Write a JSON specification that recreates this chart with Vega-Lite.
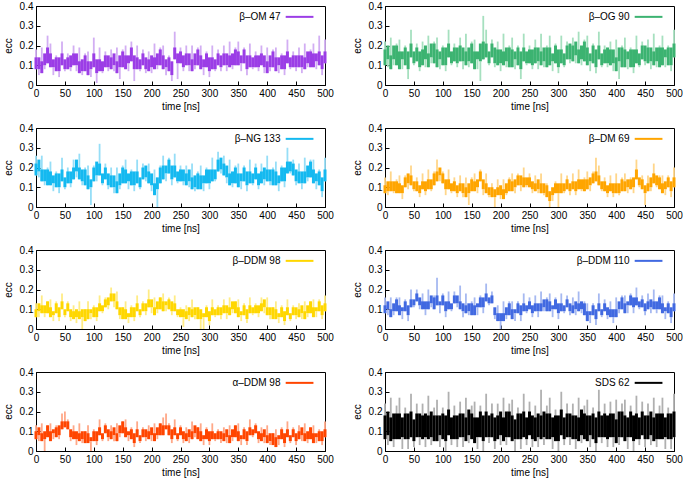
{
"$schema": "https://vega.github.io/schema/vega-lite/v6.json",
"padding": {"left": 2, "top": 0, "right": 2, "bottom": 0},
"background": "white",
"config": {
  "font": "Liberation Sans",
  "view": {"stroke": "#000", "strokeWidth": 1},
  "axis": {"labelFont": "Liberation Sans", "titleFont": "Liberation Sans", "labelFontSize": 10, "titleFontSize": 10, "titleFontWeight": "normal", "labelColor": "#000", "titleColor": "#000", "domainColor": "#000", "tickColor": "#000", "grid": false, "tickSize": -4, "labelPadding": 7, "labelOverlap": false},
  "axisX": {"titlePadding": 3, "labelOverlap": false, "labelFlush": false},
  "axisY": {"titlePadding": 6, "labelOverlap": false},
  "rule": {"clip": true}
},
"datasets": {
"om": [{"t":0,"a":0.08,"b":0.14,"s":0.18},{"t":5,"a":0.08,"b":0.14,"s":0.05},{"t":10,"a":0.06,"b":0.12,"s":0.19},{"t":15,"a":0.1,"b":0.16,"s":0.08},{"t":20,"a":0.11,"b":0.19,"s":0.25},{"t":25,"a":0.09,"b":0.16,"s":0.21},{"t":30,"a":0.09,"b":0.13,"s":0.05},{"t":35,"a":0.07,"b":0.14,"s":0.15},{"t":40,"a":0.07,"b":0.14,"s":0.04},{"t":45,"a":0.1,"b":0.16,"s":0.22},{"t":50,"a":0.08,"b":0.13,"s":0.07},{"t":55,"a":0.08,"b":0.14,"s":0.16},{"t":60,"a":0.09,"b":0.15,"s":0.07},{"t":65,"a":0.1,"b":0.16,"s":0.2},{"t":70,"a":0.1,"b":0.16,"s":0.07},{"t":75,"a":0.06,"b":0.12,"s":0.19},{"t":80,"a":0.07,"b":0.13,"s":0.05},{"t":85,"a":0.07,"b":0.15,"s":0.16},{"t":90,"a":0.05,"b":0.12,"s":0.17},{"t":95,"a":0.08,"b":0.12,"s":0.04},{"t":100,"a":0.09,"b":0.16,"s":0.24},{"t":105,"a":0.06,"b":0.13,"s":0.01},{"t":110,"a":0.07,"b":0.13,"s":0.19},{"t":115,"a":0.07,"b":0.12,"s":0.06},{"t":120,"a":0.09,"b":0.15,"s":0.17},{"t":125,"a":0.09,"b":0.15,"s":0.07},{"t":130,"a":0.08,"b":0.14,"s":0.18},{"t":135,"a":0.1,"b":0.16,"s":0.07},{"t":140,"a":0.06,"b":0.12,"s":0.19},{"t":145,"a":0.09,"b":0.15,"s":0.03},{"t":150,"a":0.09,"b":0.17,"s":0.18},{"t":155,"a":0.08,"b":0.15,"s":0.2},{"t":160,"a":0.11,"b":0.15,"s":0.07},{"t":165,"a":0.12,"b":0.19,"s":0.22},{"t":170,"a":0.08,"b":0.15,"s":0.02},{"t":175,"a":0.08,"b":0.14,"s":0.2},{"t":180,"a":0.08,"b":0.13,"s":0.07},{"t":185,"a":0.1,"b":0.16,"s":0.18},{"t":190,"a":0.08,"b":0.14,"s":0.06},{"t":195,"a":0.07,"b":0.13,"s":0.17},{"t":200,"a":0.09,"b":0.15,"s":0.06},{"t":205,"a":0.08,"b":0.14,"s":0.21},{"t":210,"a":0.1,"b":0.16,"s":0.08},{"t":215,"a":0.1,"b":0.18,"s":0.19},{"t":220,"a":0.08,"b":0.15,"s":0.2},{"t":225,"a":0.09,"b":0.13,"s":0.05},{"t":230,"a":0.07,"b":0.14,"s":0.15},{"t":235,"a":0.05,"b":0.12,"s":0.02},{"t":240,"a":0.13,"b":0.19,"s":0.27},{"t":245,"a":0.11,"b":0.16,"s":0.03},{"t":250,"a":0.11,"b":0.17,"s":0.19},{"t":255,"a":0.09,"b":0.15,"s":0.07},{"t":260,"a":0.1,"b":0.16,"s":0.2},{"t":265,"a":0.1,"b":0.16,"s":0.07},{"t":270,"a":0.07,"b":0.13,"s":0.2},{"t":275,"a":0.1,"b":0.16,"s":0.08},{"t":280,"a":0.1,"b":0.18,"s":0.19},{"t":285,"a":0.08,"b":0.15,"s":0.2},{"t":290,"a":0.09,"b":0.13,"s":0.05},{"t":295,"a":0.09,"b":0.16,"s":0.17},{"t":300,"a":0.07,"b":0.14,"s":0.04},{"t":305,"a":0.08,"b":0.14,"s":0.2},{"t":310,"a":0.08,"b":0.13,"s":0.07},{"t":315,"a":0.1,"b":0.16,"s":0.18},{"t":320,"a":0.09,"b":0.15,"s":0.07},{"t":325,"a":0.1,"b":0.16,"s":0.2},{"t":330,"a":0.1,"b":0.16,"s":0.07},{"t":335,"a":0.09,"b":0.15,"s":0.22},{"t":340,"a":0.1,"b":0.16,"s":0.08},{"t":345,"a":0.1,"b":0.18,"s":0.19},{"t":350,"a":0.1,"b":0.17,"s":0.22},{"t":355,"a":0.11,"b":0.15,"s":0.07},{"t":360,"a":0.11,"b":0.18,"s":0.19},{"t":365,"a":0.08,"b":0.15,"s":0.05},{"t":370,"a":0.09,"b":0.15,"s":0.21},{"t":375,"a":0.09,"b":0.14,"s":0.08},{"t":380,"a":0.09,"b":0.15,"s":0.17},{"t":385,"a":0.09,"b":0.15,"s":0.07},{"t":390,"a":0.1,"b":0.16,"s":0.2},{"t":395,"a":0.09,"b":0.15,"s":0.06},{"t":400,"a":0.06,"b":0.12,"s":0.19},{"t":405,"a":0.09,"b":0.15,"s":0.07},{"t":410,"a":0.09,"b":0.17,"s":0.18},{"t":415,"a":0.07,"b":0.14,"s":0.19},{"t":420,"a":0.1,"b":0.14,"s":0.06},{"t":425,"a":0.08,"b":0.15,"s":0.16},{"t":430,"a":0.08,"b":0.15,"s":0.05},{"t":435,"a":0.11,"b":0.17,"s":0.23},{"t":440,"a":0.09,"b":0.14,"s":0.08},{"t":445,"a":0.09,"b":0.15,"s":0.17},{"t":450,"a":0.09,"b":0.15,"s":0.07},{"t":455,"a":0.09,"b":0.15,"s":0.19},{"t":460,"a":0.09,"b":0.15,"s":0.06},{"t":465,"a":0.08,"b":0.14,"s":0.21},{"t":470,"a":0.11,"b":0.17,"s":0.09},{"t":475,"a":0.09,"b":0.17,"s":0.18},{"t":480,"a":0.09,"b":0.16,"s":0.21},{"t":485,"a":0.12,"b":0.16,"s":0.08},{"t":490,"a":0.1,"b":0.17,"s":0.25},{"t":495,"a":0.08,"b":0.15,"s":0.05},{"t":500,"a":0.11,"b":0.17,"s":0.23}],
"og": [{"t":0,"a":0.1,"b":0.18,"s":0.22},{"t":5,"a":0.13,"b":0.2,"s":0.09},{"t":10,"a":0.08,"b":0.15,"s":0.24},{"t":15,"a":0.13,"b":0.2,"s":0.1},{"t":20,"a":0.1,"b":0.2,"s":0.21},{"t":25,"a":0.08,"b":0.17,"s":0.23},{"t":30,"a":0.13,"b":0.17,"s":0.08},{"t":35,"a":0.1,"b":0.19,"s":0.2},{"t":40,"a":0.08,"b":0.17,"s":0.03},{"t":45,"a":0.14,"b":0.21,"s":0.28},{"t":50,"a":0.11,"b":0.17,"s":0.1},{"t":55,"a":0.12,"b":0.19,"s":0.21},{"t":60,"a":0.09,"b":0.17,"s":0.07},{"t":65,"a":0.1,"b":0.18,"s":0.22},{"t":70,"a":0.13,"b":0.2,"s":0.09},{"t":75,"a":0.09,"b":0.16,"s":0.25},{"t":80,"a":0.14,"b":0.21,"s":0.11},{"t":85,"a":0.11,"b":0.21,"s":0.22},{"t":90,"a":0.09,"b":0.18,"s":0.24},{"t":95,"a":0.13,"b":0.17,"s":0.08},{"t":100,"a":0.1,"b":0.19,"s":0.2},{"t":105,"a":0.1,"b":0.19,"s":0.07},{"t":110,"a":0.14,"b":0.21,"s":0.28},{"t":115,"a":0.11,"b":0.17,"s":0.1},{"t":120,"a":0.12,"b":0.19,"s":0.21},{"t":125,"a":0.11,"b":0.19,"s":0.09},{"t":130,"a":0.12,"b":0.2,"s":0.24},{"t":135,"a":0.12,"b":0.19,"s":0.08},{"t":140,"a":0.1,"b":0.17,"s":0.26},{"t":145,"a":0.12,"b":0.19,"s":0.09},{"t":150,"a":0.11,"b":0.21,"s":0.22},{"t":155,"a":0.08,"b":0.17,"s":0.23},{"t":160,"a":0.13,"b":0.17,"s":0.08},{"t":165,"a":0.12,"b":0.21,"s":0.02},{"t":170,"a":0.13,"b":0.22,"s":0.35},{"t":175,"a":0.14,"b":0.21,"s":0.28},{"t":180,"a":0.11,"b":0.17,"s":0.1},{"t":185,"a":0.14,"b":0.21,"s":0.23},{"t":190,"a":0.11,"b":0.19,"s":0.09},{"t":195,"a":0.1,"b":0.18,"s":0.22},{"t":200,"a":0.11,"b":0.18,"s":0.07},{"t":205,"a":0.1,"b":0.17,"s":0.26},{"t":210,"a":0.12,"b":0.19,"s":0.09},{"t":215,"a":0.09,"b":0.19,"s":0.2},{"t":220,"a":0.09,"b":0.18,"s":0.24},{"t":225,"a":0.13,"b":0.17,"s":0.08},{"t":230,"a":0.1,"b":0.19,"s":0.2},{"t":235,"a":0.08,"b":0.17,"s":0.03},{"t":240,"a":0.12,"b":0.19,"s":0.26},{"t":245,"a":0.11,"b":0.17,"s":0.1},{"t":250,"a":0.11,"b":0.18,"s":0.2},{"t":255,"a":0.1,"b":0.18,"s":0.08},{"t":260,"a":0.11,"b":0.19,"s":0.23},{"t":265,"a":0.12,"b":0.19,"s":0.08},{"t":270,"a":0.1,"b":0.17,"s":0.26},{"t":275,"a":0.12,"b":0.19,"s":0.09},{"t":280,"a":0.09,"b":0.19,"s":0.2},{"t":285,"a":0.1,"b":0.19,"s":0.25},{"t":290,"a":0.12,"b":0.16,"s":0.07},{"t":295,"a":0.11,"b":0.2,"s":0.21},{"t":300,"a":0.09,"b":0.18,"s":0.06},{"t":305,"a":0.11,"b":0.18,"s":0.25},{"t":310,"a":0.1,"b":0.16,"s":0.09},{"t":315,"a":0.13,"b":0.2,"s":0.22},{"t":320,"a":0.13,"b":0.21,"s":0.11},{"t":325,"a":0.12,"b":0.2,"s":0.24},{"t":330,"a":0.15,"b":0.22,"s":0.11},{"t":335,"a":0.11,"b":0.18,"s":0.27},{"t":340,"a":0.13,"b":0.2,"s":0.1},{"t":345,"a":0.12,"b":0.22,"s":0.23},{"t":350,"a":0.1,"b":0.19,"s":0.25},{"t":355,"a":0.12,"b":0.16,"s":0.07},{"t":360,"a":0.11,"b":0.2,"s":0.21},{"t":365,"a":0.09,"b":0.18,"s":0.06},{"t":370,"a":0.13,"b":0.2,"s":0.27},{"t":375,"a":0.1,"b":0.16,"s":0.09},{"t":380,"a":0.11,"b":0.18,"s":0.2},{"t":385,"a":0.11,"b":0.19,"s":0.09},{"t":390,"a":0.1,"b":0.18,"s":0.22},{"t":395,"a":0.11,"b":0.18,"s":0.07},{"t":400,"a":0.07,"b":0.14,"s":0.23},{"t":405,"a":0.12,"b":0.19,"s":0.03},{"t":410,"a":0.09,"b":0.19,"s":0.2},{"t":415,"a":0.09,"b":0.18,"s":0.24},{"t":420,"a":0.13,"b":0.17,"s":0.08},{"t":425,"a":0.09,"b":0.18,"s":0.19},{"t":430,"a":0.09,"b":0.18,"s":0.06},{"t":435,"a":0.11,"b":0.18,"s":0.25},{"t":440,"a":0.1,"b":0.16,"s":0.09},{"t":445,"a":0.13,"b":0.2,"s":0.22},{"t":450,"a":0.12,"b":0.2,"s":0.1},{"t":455,"a":0.11,"b":0.19,"s":0.23},{"t":460,"a":0.12,"b":0.19,"s":0.08},{"t":465,"a":0.1,"b":0.17,"s":0.26},{"t":470,"a":0.12,"b":0.19,"s":0.09},{"t":475,"a":0.09,"b":0.19,"s":0.2},{"t":480,"a":0.1,"b":0.19,"s":0.25},{"t":485,"a":0.14,"b":0.18,"s":0.09},{"t":490,"a":0.1,"b":0.19,"s":0.2},{"t":495,"a":0.1,"b":0.19,"s":0.07},{"t":500,"a":0.14,"b":0.21,"s":0.28}],
"ng": [{"t":0,"a":0.16,"b":0.22,"s":0.26},{"t":5,"a":0.18,"b":0.24,"s":0.15},{"t":10,"a":0.13,"b":0.19,"s":0.26},{"t":15,"a":0.13,"b":0.19,"s":0.11},{"t":20,"a":0.11,"b":0.19,"s":0.2},{"t":25,"a":0.11,"b":0.18,"s":0.23},{"t":30,"a":0.12,"b":0.16,"s":0.08},{"t":35,"a":0.1,"b":0.17,"s":0.18},{"t":40,"a":0.1,"b":0.17,"s":0.07},{"t":45,"a":0.13,"b":0.19,"s":0.25},{"t":50,"a":0.1,"b":0.15,"s":0.09},{"t":55,"a":0.12,"b":0.18,"s":0.2},{"t":60,"a":0.12,"b":0.18,"s":0.1},{"t":65,"a":0.14,"b":0.2,"s":0.24},{"t":70,"a":0.18,"b":0.24,"s":0.15},{"t":75,"a":0.14,"b":0.2,"s":0.27},{"t":80,"a":0.13,"b":0.19,"s":0.11},{"t":85,"a":0.11,"b":0.19,"s":0.2},{"t":90,"a":0.09,"b":0.16,"s":0.21},{"t":95,"a":0.1,"b":0.14,"s":0.01},{"t":100,"a":0.13,"b":0.2,"s":0.21},{"t":105,"a":0.16,"b":0.23,"s":0.13},{"t":110,"a":0.16,"b":0.22,"s":0.32},{"t":115,"a":0.12,"b":0.17,"s":0.11},{"t":120,"a":0.14,"b":0.2,"s":0.22},{"t":125,"a":0.11,"b":0.17,"s":0.09},{"t":130,"a":0.1,"b":0.16,"s":0.2},{"t":135,"a":0.1,"b":0.16,"s":0.07},{"t":140,"a":0.07,"b":0.13,"s":0.2},{"t":145,"a":0.11,"b":0.17,"s":0.09},{"t":150,"a":0.12,"b":0.2,"s":0.21},{"t":155,"a":0.12,"b":0.19,"s":0.24},{"t":160,"a":0.13,"b":0.17,"s":0.09},{"t":165,"a":0.11,"b":0.18,"s":0.19},{"t":170,"a":0.11,"b":0.18,"s":0.08},{"t":175,"a":0.12,"b":0.18,"s":0.24},{"t":180,"a":0.1,"b":0.15,"s":0.09},{"t":185,"a":0.14,"b":0.2,"s":0.22},{"t":190,"a":0.15,"b":0.21,"s":0.13},{"t":195,"a":0.12,"b":0.18,"s":0.22},{"t":200,"a":0.11,"b":0.17,"s":0.08},{"t":205,"a":0.06,"b":0.12,"s":0.19},{"t":210,"a":0.09,"b":0.15,"s":0.0},{"t":215,"a":0.12,"b":0.2,"s":0.21},{"t":220,"a":0.14,"b":0.21,"s":0.26},{"t":225,"a":0.17,"b":0.21,"s":0.13},{"t":230,"a":0.17,"b":0.24,"s":0.25},{"t":235,"a":0.14,"b":0.21,"s":0.11},{"t":240,"a":0.15,"b":0.21,"s":0.27},{"t":245,"a":0.13,"b":0.18,"s":0.12},{"t":250,"a":0.13,"b":0.19,"s":0.21},{"t":255,"a":0.13,"b":0.19,"s":0.11},{"t":260,"a":0.11,"b":0.17,"s":0.21},{"t":265,"a":0.13,"b":0.19,"s":0.1},{"t":270,"a":0.09,"b":0.15,"s":0.22},{"t":275,"a":0.1,"b":0.16,"s":0.08},{"t":280,"a":0.09,"b":0.17,"s":0.18},{"t":285,"a":0.09,"b":0.16,"s":0.21},{"t":290,"a":0.12,"b":0.16,"s":0.08},{"t":295,"a":0.12,"b":0.19,"s":0.2},{"t":300,"a":0.12,"b":0.19,"s":0.09},{"t":305,"a":0.13,"b":0.19,"s":0.25},{"t":310,"a":0.14,"b":0.19,"s":0.13},{"t":315,"a":0.18,"b":0.24,"s":0.28},{"t":320,"a":0.19,"b":0.25,"s":0.17},{"t":325,"a":0.16,"b":0.22,"s":0.26},{"t":330,"a":0.15,"b":0.21,"s":0.12},{"t":335,"a":0.11,"b":0.17,"s":0.24},{"t":340,"a":0.12,"b":0.18,"s":0.1},{"t":345,"a":0.12,"b":0.2,"s":0.21},{"t":350,"a":0.1,"b":0.17,"s":0.22},{"t":355,"a":0.13,"b":0.17,"s":0.09},{"t":360,"a":0.13,"b":0.2,"s":0.21},{"t":365,"a":0.11,"b":0.18,"s":0.08},{"t":370,"a":0.12,"b":0.18,"s":0.24},{"t":375,"a":0.12,"b":0.17,"s":0.11},{"t":380,"a":0.14,"b":0.2,"s":0.22},{"t":385,"a":0.11,"b":0.17,"s":0.09},{"t":390,"a":0.12,"b":0.18,"s":0.22},{"t":395,"a":0.14,"b":0.2,"s":0.11},{"t":400,"a":0.13,"b":0.19,"s":0.26},{"t":405,"a":0.13,"b":0.19,"s":0.11},{"t":410,"a":0.11,"b":0.19,"s":0.2},{"t":415,"a":0.11,"b":0.18,"s":0.23},{"t":420,"a":0.12,"b":0.16,"s":0.08},{"t":425,"a":0.13,"b":0.2,"s":0.21},{"t":430,"a":0.13,"b":0.2,"s":0.1},{"t":435,"a":0.17,"b":0.23,"s":0.3},{"t":440,"a":0.18,"b":0.23,"s":0.17},{"t":445,"a":0.16,"b":0.22,"s":0.24},{"t":450,"a":0.13,"b":0.19,"s":0.11},{"t":455,"a":0.12,"b":0.18,"s":0.22},{"t":460,"a":0.12,"b":0.18,"s":0.09},{"t":465,"a":0.12,"b":0.18,"s":0.25},{"t":470,"a":0.15,"b":0.21,"s":0.13},{"t":475,"a":0.15,"b":0.23,"s":0.24},{"t":480,"a":0.12,"b":0.19,"s":0.24},{"t":485,"a":0.13,"b":0.17,"s":0.09},{"t":490,"a":0.11,"b":0.18,"s":0.19},{"t":495,"a":0.08,"b":0.15,"s":0.05},{"t":500,"a":0.13,"b":0.19,"s":0.25}],
"dm": [{"t":0,"a":0.07,"b":0.11,"s":0.15},{"t":5,"a":0.08,"b":0.13,"s":0.06},{"t":10,"a":0.08,"b":0.13,"s":0.18},{"t":15,"a":0.08,"b":0.13,"s":0.07},{"t":20,"a":0.07,"b":0.13,"s":0.14},{"t":25,"a":0.07,"b":0.12,"s":0.16},{"t":30,"a":0.07,"b":0.11,"s":0.04},{"t":35,"a":0.1,"b":0.15,"s":0.16},{"t":40,"a":0.12,"b":0.17,"s":0.09},{"t":45,"a":0.11,"b":0.16,"s":0.21},{"t":50,"a":0.09,"b":0.13,"s":0.08},{"t":55,"a":0.08,"b":0.13,"s":0.15},{"t":60,"a":0.07,"b":0.11,"s":0.05},{"t":65,"a":0.09,"b":0.13,"s":0.17},{"t":70,"a":0.08,"b":0.13,"s":0.06},{"t":75,"a":0.09,"b":0.14,"s":0.19},{"t":80,"a":0.09,"b":0.14,"s":0.08},{"t":85,"a":0.11,"b":0.17,"s":0.18},{"t":90,"a":0.13,"b":0.18,"s":0.24},{"t":95,"a":0.16,"b":0.2,"s":0.13},{"t":100,"a":0.12,"b":0.17,"s":0.18},{"t":105,"a":0.09,"b":0.14,"s":0.06},{"t":110,"a":0.09,"b":0.14,"s":0.19},{"t":115,"a":0.08,"b":0.12,"s":0.07},{"t":120,"a":0.08,"b":0.13,"s":0.15},{"t":125,"a":0.07,"b":0.11,"s":0.05},{"t":130,"a":0.08,"b":0.12,"s":0.16},{"t":135,"a":0.07,"b":0.12,"s":0.05},{"t":140,"a":0.05,"b":0.1,"s":0.15},{"t":145,"a":0.07,"b":0.12,"s":0.01},{"t":150,"a":0.08,"b":0.14,"s":0.15},{"t":155,"a":0.08,"b":0.13,"s":0.17},{"t":160,"a":0.1,"b":0.14,"s":0.07},{"t":165,"a":0.13,"b":0.18,"s":0.19},{"t":170,"a":0.09,"b":0.14,"s":0.06},{"t":175,"a":0.07,"b":0.12,"s":0.17},{"t":180,"a":0.06,"b":0.1,"s":0.05},{"t":185,"a":0.05,"b":0.1,"s":0.12},{"t":190,"a":0.05,"b":0.09,"s":0.0},{"t":195,"a":0.06,"b":0.1,"s":0.14},{"t":200,"a":0.06,"b":0.11,"s":0.04},{"t":205,"a":0.04,"b":0.09,"s":0.14},{"t":210,"a":0.07,"b":0.12,"s":0.06},{"t":215,"a":0.08,"b":0.14,"s":0.15},{"t":220,"a":0.08,"b":0.13,"s":0.17},{"t":225,"a":0.1,"b":0.14,"s":0.07},{"t":230,"a":0.11,"b":0.16,"s":0.17},{"t":235,"a":0.11,"b":0.16,"s":0.08},{"t":240,"a":0.1,"b":0.15,"s":0.2},{"t":245,"a":0.11,"b":0.15,"s":0.1},{"t":250,"a":0.1,"b":0.15,"s":0.17},{"t":255,"a":0.09,"b":0.13,"s":0.07},{"t":260,"a":0.08,"b":0.12,"s":0.16},{"t":265,"a":0.09,"b":0.14,"s":0.07},{"t":270,"a":0.07,"b":0.12,"s":0.17},{"t":275,"a":0.07,"b":0.12,"s":0.06},{"t":280,"a":0.05,"b":0.11,"s":0.12},{"t":285,"a":0.03,"b":0.08,"s":0.0},{"t":290,"a":0.06,"b":0.1,"s":0.03},{"t":295,"a":0.07,"b":0.12,"s":0.13},{"t":300,"a":0.07,"b":0.12,"s":0.0},{"t":305,"a":0.07,"b":0.12,"s":0.17},{"t":310,"a":0.08,"b":0.12,"s":0.07},{"t":315,"a":0.09,"b":0.14,"s":0.16},{"t":320,"a":0.08,"b":0.12,"s":0.06},{"t":325,"a":0.09,"b":0.13,"s":0.17},{"t":330,"a":0.08,"b":0.13,"s":0.06},{"t":335,"a":0.09,"b":0.14,"s":0.19},{"t":340,"a":0.09,"b":0.14,"s":0.08},{"t":345,"a":0.08,"b":0.14,"s":0.15},{"t":350,"a":0.09,"b":0.14,"s":0.18},{"t":355,"a":0.11,"b":0.15,"s":0.08},{"t":360,"a":0.12,"b":0.17,"s":0.18},{"t":365,"a":0.13,"b":0.18,"s":0.25},{"t":370,"a":0.11,"b":0.16,"s":0.21},{"t":375,"a":0.09,"b":0.13,"s":0.08},{"t":380,"a":0.08,"b":0.13,"s":0.15},{"t":385,"a":0.07,"b":0.11,"s":0.05},{"t":390,"a":0.08,"b":0.12,"s":0.16},{"t":395,"a":0.07,"b":0.12,"s":0.05},{"t":400,"a":0.07,"b":0.12,"s":0.17},{"t":405,"a":0.07,"b":0.12,"s":0.06},{"t":410,"a":0.08,"b":0.14,"s":0.15},{"t":415,"a":0.08,"b":0.13,"s":0.17},{"t":420,"a":0.1,"b":0.14,"s":0.07},{"t":425,"a":0.09,"b":0.14,"s":0.15},{"t":430,"a":0.1,"b":0.15,"s":0.07},{"t":435,"a":0.14,"b":0.19,"s":0.24},{"t":440,"a":0.11,"b":0.15,"s":0.1},{"t":445,"a":0.09,"b":0.14,"s":0.16},{"t":450,"a":0.07,"b":0.11,"s":0.01},{"t":455,"a":0.08,"b":0.12,"s":0.16},{"t":460,"a":0.1,"b":0.15,"s":0.08},{"t":465,"a":0.12,"b":0.17,"s":0.22},{"t":470,"a":0.11,"b":0.16,"s":0.1},{"t":475,"a":0.09,"b":0.15,"s":0.16},{"t":480,"a":0.07,"b":0.12,"s":0.16},{"t":485,"a":0.09,"b":0.13,"s":0.06},{"t":490,"a":0.1,"b":0.15,"s":0.16},{"t":495,"a":0.08,"b":0.13,"s":0.05},{"t":500,"a":0.1,"b":0.15,"s":0.2}],
"ddm98": [{"t":0,"a":0.06,"b":0.1,"s":0.13},{"t":5,"a":0.09,"b":0.13,"s":0.06},{"t":10,"a":0.08,"b":0.12,"s":0.17},{"t":15,"a":0.08,"b":0.12,"s":0.06},{"t":20,"a":0.08,"b":0.14,"s":0.14},{"t":25,"a":0.06,"b":0.11,"s":0.15},{"t":30,"a":0.07,"b":0.09,"s":0.04},{"t":35,"a":0.08,"b":0.13,"s":0.14},{"t":40,"a":0.06,"b":0.11,"s":0.04},{"t":45,"a":0.1,"b":0.14,"s":0.18},{"t":50,"a":0.07,"b":0.1,"s":0.06},{"t":55,"a":0.09,"b":0.13,"s":0.14},{"t":60,"a":0.06,"b":0.1,"s":0.04},{"t":65,"a":0.05,"b":0.09,"s":0.12},{"t":70,"a":0.06,"b":0.1,"s":0.03},{"t":75,"a":0.05,"b":0.09,"s":0.14},{"t":80,"a":0.06,"b":0.1,"s":0.0},{"t":85,"a":0.04,"b":0.1,"s":0.1},{"t":90,"a":0.05,"b":0.1,"s":0.14},{"t":95,"a":0.08,"b":0.1,"s":0.05},{"t":100,"a":0.06,"b":0.11,"s":0.12},{"t":105,"a":0.06,"b":0.11,"s":0.04},{"t":110,"a":0.09,"b":0.13,"s":0.17},{"t":115,"a":0.09,"b":0.12,"s":0.08},{"t":120,"a":0.11,"b":0.15,"s":0.16},{"t":125,"a":0.12,"b":0.16,"s":0.1},{"t":130,"a":0.14,"b":0.18,"s":0.21},{"t":135,"a":0.14,"b":0.18,"s":0.11},{"t":140,"a":0.1,"b":0.14,"s":0.19},{"t":145,"a":0.07,"b":0.11,"s":0.05},{"t":150,"a":0.05,"b":0.11,"s":0.11},{"t":155,"a":0.05,"b":0.1,"s":0.14},{"t":160,"a":0.06,"b":0.08,"s":0.03},{"t":165,"a":0.06,"b":0.11,"s":0.12},{"t":170,"a":0.06,"b":0.11,"s":0.04},{"t":175,"a":0.09,"b":0.13,"s":0.17},{"t":180,"a":0.07,"b":0.1,"s":0.06},{"t":185,"a":0.09,"b":0.13,"s":0.14},{"t":190,"a":0.09,"b":0.13,"s":0.07},{"t":195,"a":0.11,"b":0.15,"s":0.2},{"t":200,"a":0.11,"b":0.15,"s":0.08},{"t":205,"a":0.07,"b":0.11,"s":0.16},{"t":210,"a":0.1,"b":0.14,"s":0.08},{"t":215,"a":0.1,"b":0.16,"s":0.16},{"t":220,"a":0.09,"b":0.14,"s":0.18},{"t":225,"a":0.12,"b":0.14,"s":0.09},{"t":230,"a":0.1,"b":0.15,"s":0.16},{"t":235,"a":0.09,"b":0.14,"s":0.07},{"t":240,"a":0.09,"b":0.13,"s":0.17},{"t":245,"a":0.07,"b":0.1,"s":0.06},{"t":250,"a":0.06,"b":0.1,"s":0.11},{"t":255,"a":0.06,"b":0.1,"s":0.01},{"t":260,"a":0.05,"b":0.09,"s":0.12},{"t":265,"a":0.07,"b":0.11,"s":0.04},{"t":270,"a":0.06,"b":0.1,"s":0.15},{"t":275,"a":0.07,"b":0.11,"s":0.05},{"t":280,"a":0.05,"b":0.11,"s":0.11},{"t":285,"a":0.05,"b":0.1,"s":0.0},{"t":290,"a":0.06,"b":0.08,"s":0.0},{"t":295,"a":0.06,"b":0.11,"s":0.12},{"t":300,"a":0.04,"b":0.09,"s":0.02},{"t":305,"a":0.07,"b":0.11,"s":0.15},{"t":310,"a":0.07,"b":0.1,"s":0.06},{"t":315,"a":0.07,"b":0.11,"s":0.12},{"t":320,"a":0.07,"b":0.11,"s":0.05},{"t":325,"a":0.08,"b":0.12,"s":0.15},{"t":330,"a":0.08,"b":0.12,"s":0.05},{"t":335,"a":0.07,"b":0.11,"s":0.16},{"t":340,"a":0.1,"b":0.14,"s":0.08},{"t":345,"a":0.08,"b":0.14,"s":0.14},{"t":350,"a":0.06,"b":0.11,"s":0.15},{"t":355,"a":0.07,"b":0.09,"s":0.04},{"t":360,"a":0.07,"b":0.12,"s":0.13},{"t":365,"a":0.05,"b":0.1,"s":0.03},{"t":370,"a":0.08,"b":0.12,"s":0.16},{"t":375,"a":0.08,"b":0.11,"s":0.07},{"t":380,"a":0.08,"b":0.12,"s":0.13},{"t":385,"a":0.08,"b":0.12,"s":0.06},{"t":390,"a":0.09,"b":0.13,"s":0.16},{"t":395,"a":0.11,"b":0.15,"s":0.08},{"t":400,"a":0.07,"b":0.11,"s":0.16},{"t":405,"a":0.07,"b":0.11,"s":0.05},{"t":410,"a":0.05,"b":0.11,"s":0.11},{"t":415,"a":0.05,"b":0.1,"s":0.14},{"t":420,"a":0.06,"b":0.08,"s":0.03},{"t":425,"a":0.06,"b":0.11,"s":0.12},{"t":430,"a":0.04,"b":0.09,"s":0.02},{"t":435,"a":0.07,"b":0.11,"s":0.15},{"t":440,"a":0.05,"b":0.08,"s":0.04},{"t":445,"a":0.07,"b":0.11,"s":0.12},{"t":450,"a":0.07,"b":0.11,"s":0.05},{"t":455,"a":0.06,"b":0.1,"s":0.13},{"t":460,"a":0.08,"b":0.12,"s":0.05},{"t":465,"a":0.05,"b":0.09,"s":0.14},{"t":470,"a":0.08,"b":0.12,"s":0.06},{"t":475,"a":0.08,"b":0.14,"s":0.14},{"t":480,"a":0.06,"b":0.11,"s":0.15},{"t":485,"a":0.09,"b":0.11,"s":0.06},{"t":490,"a":0.09,"b":0.14,"s":0.15},{"t":495,"a":0.07,"b":0.12,"s":0.05},{"t":500,"a":0.09,"b":0.13,"s":0.17}],
"ddm110": [{"t":0,"a":0.08,"b":0.12,"s":0.16},{"t":5,"a":0.1,"b":0.14,"s":0.07},{"t":10,"a":0.06,"b":0.1,"s":0.16},{"t":15,"a":0.09,"b":0.13,"s":0.07},{"t":20,"a":0.09,"b":0.15,"s":0.16},{"t":25,"a":0.07,"b":0.12,"s":0.16},{"t":30,"a":0.09,"b":0.11,"s":0.05},{"t":35,"a":0.09,"b":0.14,"s":0.15},{"t":40,"a":0.07,"b":0.12,"s":0.04},{"t":45,"a":0.11,"b":0.15,"s":0.2},{"t":50,"a":0.12,"b":0.15,"s":0.11},{"t":55,"a":0.14,"b":0.18,"s":0.2},{"t":60,"a":0.12,"b":0.16,"s":0.1},{"t":65,"a":0.1,"b":0.14,"s":0.18},{"t":70,"a":0.1,"b":0.14,"s":0.07},{"t":75,"a":0.1,"b":0.14,"s":0.2},{"t":80,"a":0.13,"b":0.17,"s":0.11},{"t":85,"a":0.1,"b":0.16,"s":0.17},{"t":90,"a":0.12,"b":0.17,"s":0.26},{"t":95,"a":0.12,"b":0.14,"s":0.08},{"t":100,"a":0.12,"b":0.17,"s":0.18},{"t":105,"a":0.09,"b":0.14,"s":0.06},{"t":110,"a":0.1,"b":0.14,"s":0.19},{"t":115,"a":0.1,"b":0.13,"s":0.09},{"t":120,"a":0.13,"b":0.17,"s":0.19},{"t":125,"a":0.13,"b":0.17,"s":0.11},{"t":130,"a":0.1,"b":0.14,"s":0.22},{"t":135,"a":0.09,"b":0.13,"s":0.06},{"t":140,"a":0.08,"b":0.12,"s":0.18},{"t":145,"a":0.09,"b":0.13,"s":0.07},{"t":150,"a":0.07,"b":0.13,"s":0.14},{"t":155,"a":0.07,"b":0.12,"s":0.16},{"t":160,"a":0.11,"b":0.13,"s":0.07},{"t":165,"a":0.11,"b":0.16,"s":0.17},{"t":170,"a":0.11,"b":0.16,"s":0.08},{"t":175,"a":0.14,"b":0.18,"s":0.23},{"t":180,"a":0.13,"b":0.16,"s":0.12},{"t":185,"a":0.13,"b":0.17,"s":0.19},{"t":190,"a":0.07,"b":0.11,"s":0.05},{"t":195,"a":0.04,"b":0.08,"s":0.12},{"t":200,"a":0.04,"b":0.08,"s":0.0},{"t":205,"a":0.04,"b":0.08,"s":0.14},{"t":210,"a":0.07,"b":0.11,"s":0.05},{"t":215,"a":0.07,"b":0.13,"s":0.14},{"t":220,"a":0.05,"b":0.1,"s":0.14},{"t":225,"a":0.08,"b":0.1,"s":0.04},{"t":230,"a":0.08,"b":0.13,"s":0.14},{"t":235,"a":0.07,"b":0.12,"s":0.04},{"t":240,"a":0.09,"b":0.13,"s":0.18},{"t":245,"a":0.09,"b":0.12,"s":0.08},{"t":250,"a":0.1,"b":0.14,"s":0.16},{"t":255,"a":0.08,"b":0.12,"s":0.06},{"t":260,"a":0.09,"b":0.13,"s":0.17},{"t":265,"a":0.09,"b":0.13,"s":0.06},{"t":270,"a":0.09,"b":0.13,"s":0.19},{"t":275,"a":0.11,"b":0.15,"s":0.09},{"t":280,"a":0.09,"b":0.15,"s":0.16},{"t":285,"a":0.09,"b":0.14,"s":0.18},{"t":290,"a":0.1,"b":0.12,"s":0.06},{"t":295,"a":0.1,"b":0.15,"s":0.16},{"t":300,"a":0.08,"b":0.13,"s":0.05},{"t":305,"a":0.09,"b":0.13,"s":0.18},{"t":310,"a":0.09,"b":0.12,"s":0.08},{"t":315,"a":0.11,"b":0.15,"s":0.17},{"t":320,"a":0.09,"b":0.13,"s":0.07},{"t":325,"a":0.08,"b":0.12,"s":0.16},{"t":330,"a":0.1,"b":0.14,"s":0.07},{"t":335,"a":0.09,"b":0.13,"s":0.19},{"t":340,"a":0.1,"b":0.14,"s":0.08},{"t":345,"a":0.07,"b":0.13,"s":0.14},{"t":350,"a":0.04,"b":0.09,"s":0.13},{"t":355,"a":0.07,"b":0.09,"s":0.03},{"t":360,"a":0.07,"b":0.12,"s":0.13},{"t":365,"a":0.05,"b":0.1,"s":0.02},{"t":370,"a":0.09,"b":0.13,"s":0.18},{"t":375,"a":0.07,"b":0.1,"s":0.06},{"t":380,"a":0.09,"b":0.13,"s":0.15},{"t":385,"a":0.07,"b":0.11,"s":0.05},{"t":390,"a":0.06,"b":0.1,"s":0.14},{"t":395,"a":0.06,"b":0.1,"s":0.03},{"t":400,"a":0.06,"b":0.1,"s":0.16},{"t":405,"a":0.1,"b":0.14,"s":0.08},{"t":410,"a":0.1,"b":0.16,"s":0.17},{"t":415,"a":0.08,"b":0.13,"s":0.17},{"t":420,"a":0.12,"b":0.14,"s":0.08},{"t":425,"a":0.12,"b":0.17,"s":0.18},{"t":430,"a":0.11,"b":0.16,"s":0.08},{"t":435,"a":0.12,"b":0.16,"s":0.21},{"t":440,"a":0.11,"b":0.14,"s":0.1},{"t":445,"a":0.11,"b":0.15,"s":0.17},{"t":450,"a":0.09,"b":0.13,"s":0.07},{"t":455,"a":0.1,"b":0.14,"s":0.18},{"t":460,"a":0.11,"b":0.15,"s":0.08},{"t":465,"a":0.1,"b":0.14,"s":0.2},{"t":470,"a":0.1,"b":0.14,"s":0.08},{"t":475,"a":0.1,"b":0.16,"s":0.17},{"t":480,"a":0.08,"b":0.13,"s":0.17},{"t":485,"a":0.09,"b":0.11,"s":0.05},{"t":490,"a":0.08,"b":0.13,"s":0.14},{"t":495,"a":0.06,"b":0.11,"s":0.03},{"t":500,"a":0.09,"b":0.13,"s":0.18}],
"addm": [{"t":0,"a":0.06,"b":0.1,"s":0.13},{"t":5,"a":0.08,"b":0.12,"s":0.05},{"t":10,"a":0.05,"b":0.09,"s":0.14},{"t":15,"a":0.06,"b":0.1,"s":0.0},{"t":20,"a":0.07,"b":0.13,"s":0.13},{"t":25,"a":0.05,"b":0.1,"s":0.14},{"t":30,"a":0.09,"b":0.11,"s":0.06},{"t":35,"a":0.07,"b":0.12,"s":0.13},{"t":40,"a":0.08,"b":0.13,"s":0.06},{"t":45,"a":0.11,"b":0.15,"s":0.19},{"t":50,"a":0.12,"b":0.15,"s":0.2},{"t":55,"a":0.11,"b":0.15,"s":0.16},{"t":60,"a":0.07,"b":0.11,"s":0.05},{"t":65,"a":0.06,"b":0.1,"s":0.13},{"t":70,"a":0.06,"b":0.1,"s":0.03},{"t":75,"a":0.05,"b":0.09,"s":0.14},{"t":80,"a":0.06,"b":0.1,"s":0.04},{"t":85,"a":0.04,"b":0.1,"s":0.1},{"t":90,"a":0.04,"b":0.09,"s":0.13},{"t":95,"a":0.05,"b":0.07,"s":0.0},{"t":100,"a":0.05,"b":0.1,"s":0.11},{"t":105,"a":0.05,"b":0.1,"s":0.03},{"t":110,"a":0.08,"b":0.12,"s":0.16},{"t":115,"a":0.06,"b":0.09,"s":0.05},{"t":120,"a":0.09,"b":0.13,"s":0.14},{"t":125,"a":0.07,"b":0.11,"s":0.05},{"t":130,"a":0.06,"b":0.1,"s":0.13},{"t":135,"a":0.08,"b":0.12,"s":0.05},{"t":140,"a":0.05,"b":0.09,"s":0.14},{"t":145,"a":0.09,"b":0.13,"s":0.07},{"t":150,"a":0.09,"b":0.15,"s":0.15},{"t":155,"a":0.07,"b":0.12,"s":0.16},{"t":160,"a":0.08,"b":0.1,"s":0.05},{"t":165,"a":0.06,"b":0.11,"s":0.12},{"t":170,"a":0.04,"b":0.09,"s":0.02},{"t":175,"a":0.07,"b":0.11,"s":0.15},{"t":180,"a":0.05,"b":0.08,"s":0.04},{"t":185,"a":0.07,"b":0.11,"s":0.12},{"t":190,"a":0.07,"b":0.11,"s":0.05},{"t":195,"a":0.06,"b":0.1,"s":0.13},{"t":200,"a":0.08,"b":0.12,"s":0.05},{"t":205,"a":0.05,"b":0.09,"s":0.14},{"t":210,"a":0.08,"b":0.12,"s":0.06},{"t":215,"a":0.08,"b":0.14,"s":0.14},{"t":220,"a":0.08,"b":0.13,"s":0.17},{"t":225,"a":0.11,"b":0.13,"s":0.19},{"t":230,"a":0.08,"b":0.13,"s":0.14},{"t":235,"a":0.06,"b":0.11,"s":0.04},{"t":240,"a":0.08,"b":0.12,"s":0.16},{"t":245,"a":0.06,"b":0.09,"s":0.05},{"t":250,"a":0.08,"b":0.12,"s":0.13},{"t":255,"a":0.06,"b":0.1,"s":0.04},{"t":260,"a":0.05,"b":0.09,"s":0.12},{"t":265,"a":0.07,"b":0.11,"s":0.04},{"t":270,"a":0.06,"b":0.1,"s":0.15},{"t":275,"a":0.09,"b":0.13,"s":0.07},{"t":280,"a":0.06,"b":0.12,"s":0.12},{"t":285,"a":0.05,"b":0.1,"s":0.14},{"t":290,"a":0.06,"b":0.08,"s":0.03},{"t":295,"a":0.06,"b":0.11,"s":0.12},{"t":300,"a":0.05,"b":0.1,"s":0.03},{"t":305,"a":0.06,"b":0.1,"s":0.14},{"t":310,"a":0.06,"b":0.09,"s":0.05},{"t":315,"a":0.06,"b":0.1,"s":0.11},{"t":320,"a":0.06,"b":0.1,"s":0.04},{"t":325,"a":0.05,"b":0.09,"s":0.12},{"t":330,"a":0.07,"b":0.11,"s":0.04},{"t":335,"a":0.04,"b":0.08,"s":0.13},{"t":340,"a":0.07,"b":0.11,"s":0.05},{"t":345,"a":0.07,"b":0.13,"s":0.13},{"t":350,"a":0.05,"b":0.1,"s":0.14},{"t":355,"a":0.06,"b":0.08,"s":0.03},{"t":360,"a":0.06,"b":0.11,"s":0.12},{"t":365,"a":0.05,"b":0.1,"s":0.03},{"t":370,"a":0.08,"b":0.12,"s":0.16},{"t":375,"a":0.08,"b":0.11,"s":0.07},{"t":380,"a":0.09,"b":0.13,"s":0.14},{"t":385,"a":0.06,"b":0.1,"s":0.04},{"t":390,"a":0.05,"b":0.09,"s":0.12},{"t":395,"a":0.07,"b":0.11,"s":0.04},{"t":400,"a":0.04,"b":0.08,"s":0.13},{"t":405,"a":0.05,"b":0.09,"s":0.03},{"t":410,"a":0.03,"b":0.09,"s":0.09},{"t":415,"a":0.02,"b":0.07,"s":0.11},{"t":420,"a":0.06,"b":0.08,"s":0.03},{"t":425,"a":0.06,"b":0.11,"s":0.12},{"t":430,"a":0.04,"b":0.09,"s":0.02},{"t":435,"a":0.07,"b":0.11,"s":0.15},{"t":440,"a":0.05,"b":0.08,"s":0.04},{"t":445,"a":0.07,"b":0.11,"s":0.12},{"t":450,"a":0.05,"b":0.09,"s":0.03},{"t":455,"a":0.06,"b":0.1,"s":0.13},{"t":460,"a":0.08,"b":0.12,"s":0.05},{"t":465,"a":0.05,"b":0.09,"s":0.14},{"t":470,"a":0.06,"b":0.1,"s":0.04},{"t":475,"a":0.06,"b":0.12,"s":0.12},{"t":480,"a":0.04,"b":0.09,"s":0.13},{"t":485,"a":0.07,"b":0.09,"s":0.04},{"t":490,"a":0.05,"b":0.1,"s":0.11},{"t":495,"a":0.05,"b":0.1,"s":0.03},{"t":500,"a":0.07,"b":0.11,"s":0.15}],
"sds": [{"t":0,"a":0.06,"b":0.18,"s":0.24},{"t":5,"a":0.08,"b":0.2,"s":0.03},{"t":10,"a":0.05,"b":0.17,"s":0.27},{"t":15,"a":0.06,"b":0.19,"s":0.02},{"t":20,"a":0.06,"b":0.19,"s":0.23},{"t":25,"a":0.06,"b":0.19,"s":0.27},{"t":30,"a":0.07,"b":0.17,"s":0.01},{"t":35,"a":0.06,"b":0.19,"s":0.22},{"t":40,"a":0.06,"b":0.19,"s":0.01},{"t":45,"a":0.07,"b":0.2,"s":0.29},{"t":50,"a":0.05,"b":0.16,"s":0.02},{"t":55,"a":0.07,"b":0.19,"s":0.24},{"t":60,"a":0.07,"b":0.19,"s":0.03},{"t":65,"a":0.06,"b":0.18,"s":0.24},{"t":70,"a":0.07,"b":0.19,"s":0.02},{"t":75,"a":0.06,"b":0.18,"s":0.28},{"t":80,"a":0.07,"b":0.2,"s":0.03},{"t":85,"a":0.05,"b":0.18,"s":0.22},{"t":90,"a":0.05,"b":0.18,"s":0.26},{"t":95,"a":0.08,"b":0.18,"s":0.02},{"t":100,"a":0.06,"b":0.19,"s":0.22},{"t":105,"a":0.05,"b":0.18,"s":0.0},{"t":110,"a":0.08,"b":0.21,"s":0.3},{"t":115,"a":0.06,"b":0.17,"s":0.03},{"t":120,"a":0.06,"b":0.18,"s":0.23},{"t":125,"a":0.06,"b":0.18,"s":0.02},{"t":130,"a":0.07,"b":0.19,"s":0.25},{"t":135,"a":0.07,"b":0.19,"s":0.02},{"t":140,"a":0.05,"b":0.17,"s":0.27},{"t":145,"a":0.08,"b":0.21,"s":0.04},{"t":150,"a":0.06,"b":0.19,"s":0.23},{"t":155,"a":0.04,"b":0.17,"s":0.25},{"t":160,"a":0.07,"b":0.17,"s":0.01},{"t":165,"a":0.07,"b":0.2,"s":0.23},{"t":170,"a":0.05,"b":0.18,"s":0.0},{"t":175,"a":0.07,"b":0.2,"s":0.29},{"t":180,"a":0.07,"b":0.18,"s":0.04},{"t":185,"a":0.07,"b":0.19,"s":0.24},{"t":190,"a":0.05,"b":0.17,"s":0.01},{"t":195,"a":0.06,"b":0.18,"s":0.24},{"t":200,"a":0.08,"b":0.2,"s":0.03},{"t":205,"a":0.05,"b":0.17,"s":0.27},{"t":210,"a":0.07,"b":0.2,"s":0.03},{"t":215,"a":0.07,"b":0.2,"s":0.24},{"t":220,"a":0.05,"b":0.18,"s":0.26},{"t":225,"a":0.06,"b":0.16,"s":0.0},{"t":230,"a":0.06,"b":0.19,"s":0.22},{"t":235,"a":0.06,"b":0.19,"s":0.01},{"t":240,"a":0.07,"b":0.2,"s":0.29},{"t":245,"a":0.06,"b":0.17,"s":0.03},{"t":250,"a":0.08,"b":0.2,"s":0.25},{"t":255,"a":0.06,"b":0.18,"s":0.02},{"t":260,"a":0.05,"b":0.17,"s":0.23},{"t":265,"a":0.07,"b":0.19,"s":0.02},{"t":270,"a":0.06,"b":0.18,"s":0.31},{"t":275,"a":0.07,"b":0.2,"s":0.03},{"t":280,"a":0.06,"b":0.19,"s":0.23},{"t":285,"a":0.06,"b":0.19,"s":0.27},{"t":290,"a":0.07,"b":0.17,"s":0.01},{"t":295,"a":0.05,"b":0.18,"s":0.21},{"t":300,"a":0.05,"b":0.18,"s":0.0},{"t":305,"a":0.08,"b":0.21,"s":0.3},{"t":310,"a":0.06,"b":0.17,"s":0.03},{"t":315,"a":0.07,"b":0.19,"s":0.24},{"t":320,"a":0.07,"b":0.19,"s":0.03},{"t":325,"a":0.06,"b":0.18,"s":0.24},{"t":330,"a":0.06,"b":0.18,"s":0.01},{"t":335,"a":0.05,"b":0.17,"s":0.27},{"t":340,"a":0.08,"b":0.21,"s":0.04},{"t":345,"a":0.06,"b":0.19,"s":0.23},{"t":350,"a":0.05,"b":0.18,"s":0.26},{"t":355,"a":0.08,"b":0.18,"s":0.02},{"t":360,"a":0.06,"b":0.19,"s":0.22},{"t":365,"a":0.04,"b":0.17,"s":0.0},{"t":370,"a":0.07,"b":0.2,"s":0.31},{"t":375,"a":0.07,"b":0.18,"s":0.04},{"t":380,"a":0.07,"b":0.19,"s":0.24},{"t":385,"a":0.06,"b":0.18,"s":0.02},{"t":390,"a":0.07,"b":0.19,"s":0.25},{"t":395,"a":0.07,"b":0.19,"s":0.02},{"t":400,"a":0.04,"b":0.16,"s":0.26},{"t":405,"a":0.07,"b":0.2,"s":0.03},{"t":410,"a":0.07,"b":0.2,"s":0.24},{"t":415,"a":0.05,"b":0.18,"s":0.26},{"t":420,"a":0.07,"b":0.17,"s":0.01},{"t":425,"a":0.07,"b":0.2,"s":0.23},{"t":430,"a":0.05,"b":0.18,"s":0.0},{"t":435,"a":0.06,"b":0.19,"s":0.28},{"t":440,"a":0.06,"b":0.17,"s":0.03},{"t":445,"a":0.08,"b":0.2,"s":0.25},{"t":450,"a":0.06,"b":0.18,"s":0.02},{"t":455,"a":0.06,"b":0.18,"s":0.24},{"t":460,"a":0.08,"b":0.2,"s":0.03},{"t":465,"a":0.05,"b":0.17,"s":0.27},{"t":470,"a":0.06,"b":0.19,"s":0.02},{"t":475,"a":0.06,"b":0.19,"s":0.23},{"t":480,"a":0.06,"b":0.19,"s":0.27},{"t":485,"a":0.07,"b":0.17,"s":0.01},{"t":490,"a":0.06,"b":0.19,"s":0.22},{"t":495,"a":0.06,"b":0.19,"s":0.01},{"t":500,"a":0.07,"b":0.2,"s":0.29}]
},
"columns": 2,
"spacing": {"row": 10, "column": 17},
"concat": [
{"width": 289, "height": 79, "layer": [
 {"data": {"name": "om"}, "mark": {"type": "rule", "color": "#d2aef3", "strokeWidth": 1.8}, "encoding": {"x": {"field": "t", "type": "quantitative", "scale": {"domain": [0, 500], "nice": false}, "title": "time [ns]", "axis": {"values": [0,50,100,150,200,250,300,350,400,450,500], "labelOverlap": false, "labelFlush": false}}, "y": {"field": "s", "type": "quantitative", "scale": {"domain": [0, 0.4], "nice": false}, "title": "ecc", "axis": {"values": [0,0.1,0.2,0.3,0.4], "labelOverlap": false, "format": ".1~f"}}, "y2": {"field": "a"}}},
 {"data": {"name": "om"}, "mark": {"type": "rule", "color": "#9b3de6", "strokeWidth": 3}, "encoding": {"x": {"field": "t", "type": "quantitative", "title": "time [ns]", "axis": {"values": [0,50,100,150,200,250,300,350,400,450,500], "labelOverlap": false, "labelFlush": false}}, "y": {"field": "a", "type": "quantitative", "title": "ecc", "axis": {"values": [0,0.1,0.2,0.3,0.4], "labelOverlap": false, "format": ".1~f"}}, "y2": {"field": "b"}}},
 {"data": {"values": [{}]}, "mark": {"type": "text", "align": "right", "baseline": "middle", "fontSize": 10}, "encoding": {"x": {"datum": 423, "type": "quantitative", "title": "time [ns]", "axis": {"values": [0,50,100,150,200,250,300,350,400,450,500], "labelOverlap": false, "labelFlush": false}}, "y": {"datum": 0.345, "type": "quantitative", "title": "ecc", "axis": {"values": [0,0.1,0.2,0.3,0.4], "labelOverlap": false, "format": ".1~f"}}, "text": {"value": "β–OM 47"}}},
 {"data": {"values": [{}]}, "mark": {"type": "rule", "color": "#9b3de6", "strokeWidth": 2}, "encoding": {"x": {"datum": 432, "type": "quantitative", "title": "time [ns]", "axis": {"values": [0,50,100,150,200,250,300,350,400,450,500], "labelOverlap": false, "labelFlush": false}}, "x2": {"datum": 480}, "y": {"datum": 0.345, "type": "quantitative", "title": "ecc", "axis": {"values": [0,0.1,0.2,0.3,0.4], "labelOverlap": false, "format": ".1~f"}}}}
]},
{"width": 289, "height": 79, "layer": [
 {"data": {"name": "og"}, "mark": {"type": "rule", "color": "#a6e0bf", "strokeWidth": 1.8}, "encoding": {"x": {"field": "t", "type": "quantitative", "scale": {"domain": [0, 500], "nice": false}, "title": "time [ns]", "axis": {"values": [0,50,100,150,200,250,300,350,400,450,500], "labelOverlap": false, "labelFlush": false}}, "y": {"field": "s", "type": "quantitative", "scale": {"domain": [0, 0.4], "nice": false}, "title": "ecc", "axis": {"values": [0,0.1,0.2,0.3,0.4], "labelOverlap": false, "format": ".1~f"}}, "y2": {"field": "a"}}},
 {"data": {"name": "og"}, "mark": {"type": "rule", "color": "#3cb371", "strokeWidth": 3}, "encoding": {"x": {"field": "t", "type": "quantitative", "title": "time [ns]", "axis": {"values": [0,50,100,150,200,250,300,350,400,450,500], "labelOverlap": false, "labelFlush": false}}, "y": {"field": "a", "type": "quantitative", "title": "ecc", "axis": {"values": [0,0.1,0.2,0.3,0.4], "labelOverlap": false, "format": ".1~f"}}, "y2": {"field": "b"}}},
 {"data": {"values": [{}]}, "mark": {"type": "text", "align": "right", "baseline": "middle", "fontSize": 10}, "encoding": {"x": {"datum": 423, "type": "quantitative", "title": "time [ns]", "axis": {"values": [0,50,100,150,200,250,300,350,400,450,500], "labelOverlap": false, "labelFlush": false}}, "y": {"datum": 0.345, "type": "quantitative", "title": "ecc", "axis": {"values": [0,0.1,0.2,0.3,0.4], "labelOverlap": false, "format": ".1~f"}}, "text": {"value": "β–OG 90"}}},
 {"data": {"values": [{}]}, "mark": {"type": "rule", "color": "#3cb371", "strokeWidth": 2}, "encoding": {"x": {"datum": 432, "type": "quantitative", "title": "time [ns]", "axis": {"values": [0,50,100,150,200,250,300,350,400,450,500], "labelOverlap": false, "labelFlush": false}}, "x2": {"datum": 480}, "y": {"datum": 0.345, "type": "quantitative", "title": "ecc", "axis": {"values": [0,0.1,0.2,0.3,0.4], "labelOverlap": false, "format": ".1~f"}}}}
]},
{"width": 289, "height": 79, "layer": [
 {"data": {"name": "ng"}, "mark": {"type": "rule", "color": "#96def7", "strokeWidth": 1.8}, "encoding": {"x": {"field": "t", "type": "quantitative", "scale": {"domain": [0, 500], "nice": false}, "title": "time [ns]", "axis": {"values": [0,50,100,150,200,250,300,350,400,450,500], "labelOverlap": false, "labelFlush": false}}, "y": {"field": "s", "type": "quantitative", "scale": {"domain": [0, 0.4], "nice": false}, "title": "ecc", "axis": {"values": [0,0.1,0.2,0.3,0.4], "labelOverlap": false, "format": ".1~f"}}, "y2": {"field": "a"}}},
 {"data": {"name": "ng"}, "mark": {"type": "rule", "color": "#14b9f0", "strokeWidth": 3}, "encoding": {"x": {"field": "t", "type": "quantitative", "title": "time [ns]", "axis": {"values": [0,50,100,150,200,250,300,350,400,450,500], "labelOverlap": false, "labelFlush": false}}, "y": {"field": "a", "type": "quantitative", "title": "ecc", "axis": {"values": [0,0.1,0.2,0.3,0.4], "labelOverlap": false, "format": ".1~f"}}, "y2": {"field": "b"}}},
 {"data": {"values": [{}]}, "mark": {"type": "text", "align": "right", "baseline": "middle", "fontSize": 10}, "encoding": {"x": {"datum": 423, "type": "quantitative", "title": "time [ns]", "axis": {"values": [0,50,100,150,200,250,300,350,400,450,500], "labelOverlap": false, "labelFlush": false}}, "y": {"datum": 0.345, "type": "quantitative", "title": "ecc", "axis": {"values": [0,0.1,0.2,0.3,0.4], "labelOverlap": false, "format": ".1~f"}}, "text": {"value": "β–NG 133"}}},
 {"data": {"values": [{}]}, "mark": {"type": "rule", "color": "#14b9f0", "strokeWidth": 2}, "encoding": {"x": {"datum": 432, "type": "quantitative", "title": "time [ns]", "axis": {"values": [0,50,100,150,200,250,300,350,400,450,500], "labelOverlap": false, "labelFlush": false}}, "x2": {"datum": 480}, "y": {"datum": 0.345, "type": "quantitative", "title": "ecc", "axis": {"values": [0,0.1,0.2,0.3,0.4], "labelOverlap": false, "format": ".1~f"}}}}
]},
{"width": 289, "height": 79, "layer": [
 {"data": {"name": "dm"}, "mark": {"type": "rule", "color": "#ffd68a", "strokeWidth": 1.8}, "encoding": {"x": {"field": "t", "type": "quantitative", "scale": {"domain": [0, 500], "nice": false}, "title": "time [ns]", "axis": {"values": [0,50,100,150,200,250,300,350,400,450,500], "labelOverlap": false, "labelFlush": false}}, "y": {"field": "s", "type": "quantitative", "scale": {"domain": [0, 0.4], "nice": false}, "title": "ecc", "axis": {"values": [0,0.1,0.2,0.3,0.4], "labelOverlap": false, "format": ".1~f"}}, "y2": {"field": "a"}}},
 {"data": {"name": "dm"}, "mark": {"type": "rule", "color": "#ffa500", "strokeWidth": 3}, "encoding": {"x": {"field": "t", "type": "quantitative", "title": "time [ns]", "axis": {"values": [0,50,100,150,200,250,300,350,400,450,500], "labelOverlap": false, "labelFlush": false}}, "y": {"field": "a", "type": "quantitative", "title": "ecc", "axis": {"values": [0,0.1,0.2,0.3,0.4], "labelOverlap": false, "format": ".1~f"}}, "y2": {"field": "b"}}},
 {"data": {"values": [{}]}, "mark": {"type": "text", "align": "right", "baseline": "middle", "fontSize": 10}, "encoding": {"x": {"datum": 423, "type": "quantitative", "title": "time [ns]", "axis": {"values": [0,50,100,150,200,250,300,350,400,450,500], "labelOverlap": false, "labelFlush": false}}, "y": {"datum": 0.345, "type": "quantitative", "title": "ecc", "axis": {"values": [0,0.1,0.2,0.3,0.4], "labelOverlap": false, "format": ".1~f"}}, "text": {"value": "β–DM 69"}}},
 {"data": {"values": [{}]}, "mark": {"type": "rule", "color": "#ffa500", "strokeWidth": 2}, "encoding": {"x": {"datum": 432, "type": "quantitative", "title": "time [ns]", "axis": {"values": [0,50,100,150,200,250,300,350,400,450,500], "labelOverlap": false, "labelFlush": false}}, "x2": {"datum": 480}, "y": {"datum": 0.345, "type": "quantitative", "title": "ecc", "axis": {"values": [0,0.1,0.2,0.3,0.4], "labelOverlap": false, "format": ".1~f"}}}}
]},
{"width": 289, "height": 79, "layer": [
 {"data": {"name": "ddm98"}, "mark": {"type": "rule", "color": "#ffec85", "strokeWidth": 1.8}, "encoding": {"x": {"field": "t", "type": "quantitative", "scale": {"domain": [0, 500], "nice": false}, "title": "time [ns]", "axis": {"values": [0,50,100,150,200,250,300,350,400,450,500], "labelOverlap": false, "labelFlush": false}}, "y": {"field": "s", "type": "quantitative", "scale": {"domain": [0, 0.4], "nice": false}, "title": "ecc", "axis": {"values": [0,0.1,0.2,0.3,0.4], "labelOverlap": false, "format": ".1~f"}}, "y2": {"field": "a"}}},
 {"data": {"name": "ddm98"}, "mark": {"type": "rule", "color": "#ffd700", "strokeWidth": 3}, "encoding": {"x": {"field": "t", "type": "quantitative", "title": "time [ns]", "axis": {"values": [0,50,100,150,200,250,300,350,400,450,500], "labelOverlap": false, "labelFlush": false}}, "y": {"field": "a", "type": "quantitative", "title": "ecc", "axis": {"values": [0,0.1,0.2,0.3,0.4], "labelOverlap": false, "format": ".1~f"}}, "y2": {"field": "b"}}},
 {"data": {"values": [{}]}, "mark": {"type": "text", "align": "right", "baseline": "middle", "fontSize": 10}, "encoding": {"x": {"datum": 423, "type": "quantitative", "title": "time [ns]", "axis": {"values": [0,50,100,150,200,250,300,350,400,450,500], "labelOverlap": false, "labelFlush": false}}, "y": {"datum": 0.345, "type": "quantitative", "title": "ecc", "axis": {"values": [0,0.1,0.2,0.3,0.4], "labelOverlap": false, "format": ".1~f"}}, "text": {"value": "β–DDM 98"}}},
 {"data": {"values": [{}]}, "mark": {"type": "rule", "color": "#ffd700", "strokeWidth": 2}, "encoding": {"x": {"datum": 432, "type": "quantitative", "title": "time [ns]", "axis": {"values": [0,50,100,150,200,250,300,350,400,450,500], "labelOverlap": false, "labelFlush": false}}, "x2": {"datum": 480}, "y": {"datum": 0.345, "type": "quantitative", "title": "ecc", "axis": {"values": [0,0.1,0.2,0.3,0.4], "labelOverlap": false, "format": ".1~f"}}}}
]},
{"width": 289, "height": 79, "layer": [
 {"data": {"name": "ddm110"}, "mark": {"type": "rule", "color": "#a6b9f1", "strokeWidth": 1.8}, "encoding": {"x": {"field": "t", "type": "quantitative", "scale": {"domain": [0, 500], "nice": false}, "title": "time [ns]", "axis": {"values": [0,50,100,150,200,250,300,350,400,450,500], "labelOverlap": false, "labelFlush": false}}, "y": {"field": "s", "type": "quantitative", "scale": {"domain": [0, 0.4], "nice": false}, "title": "ecc", "axis": {"values": [0,0.1,0.2,0.3,0.4], "labelOverlap": false, "format": ".1~f"}}, "y2": {"field": "a"}}},
 {"data": {"name": "ddm110"}, "mark": {"type": "rule", "color": "#4169e1", "strokeWidth": 3}, "encoding": {"x": {"field": "t", "type": "quantitative", "title": "time [ns]", "axis": {"values": [0,50,100,150,200,250,300,350,400,450,500], "labelOverlap": false, "labelFlush": false}}, "y": {"field": "a", "type": "quantitative", "title": "ecc", "axis": {"values": [0,0.1,0.2,0.3,0.4], "labelOverlap": false, "format": ".1~f"}}, "y2": {"field": "b"}}},
 {"data": {"values": [{}]}, "mark": {"type": "text", "align": "right", "baseline": "middle", "fontSize": 10}, "encoding": {"x": {"datum": 423, "type": "quantitative", "title": "time [ns]", "axis": {"values": [0,50,100,150,200,250,300,350,400,450,500], "labelOverlap": false, "labelFlush": false}}, "y": {"datum": 0.345, "type": "quantitative", "title": "ecc", "axis": {"values": [0,0.1,0.2,0.3,0.4], "labelOverlap": false, "format": ".1~f"}}, "text": {"value": "β–DDM 110"}}},
 {"data": {"values": [{}]}, "mark": {"type": "rule", "color": "#4169e1", "strokeWidth": 2}, "encoding": {"x": {"datum": 432, "type": "quantitative", "title": "time [ns]", "axis": {"values": [0,50,100,150,200,250,300,350,400,450,500], "labelOverlap": false, "labelFlush": false}}, "x2": {"datum": 480}, "y": {"datum": 0.345, "type": "quantitative", "title": "ecc", "axis": {"values": [0,0.1,0.2,0.3,0.4], "labelOverlap": false, "format": ".1~f"}}}}
]},
{"width": 289, "height": 79, "layer": [
 {"data": {"name": "addm"}, "mark": {"type": "rule", "color": "#ffa888", "strokeWidth": 1.8}, "encoding": {"x": {"field": "t", "type": "quantitative", "scale": {"domain": [0, 500], "nice": false}, "title": "time [ns]", "axis": {"values": [0,50,100,150,200,250,300,350,400,450,500], "labelOverlap": false, "labelFlush": false}}, "y": {"field": "s", "type": "quantitative", "scale": {"domain": [0, 0.4], "nice": false}, "title": "ecc", "axis": {"values": [0,0.1,0.2,0.3,0.4], "labelOverlap": false, "format": ".1~f"}}, "y2": {"field": "a"}}},
 {"data": {"name": "addm"}, "mark": {"type": "rule", "color": "#ff4500", "strokeWidth": 3}, "encoding": {"x": {"field": "t", "type": "quantitative", "title": "time [ns]", "axis": {"values": [0,50,100,150,200,250,300,350,400,450,500], "labelOverlap": false, "labelFlush": false}}, "y": {"field": "a", "type": "quantitative", "title": "ecc", "axis": {"values": [0,0.1,0.2,0.3,0.4], "labelOverlap": false, "format": ".1~f"}}, "y2": {"field": "b"}}},
 {"data": {"values": [{}]}, "mark": {"type": "text", "align": "right", "baseline": "middle", "fontSize": 10}, "encoding": {"x": {"datum": 423, "type": "quantitative", "title": "time [ns]", "axis": {"values": [0,50,100,150,200,250,300,350,400,450,500], "labelOverlap": false, "labelFlush": false}}, "y": {"datum": 0.345, "type": "quantitative", "title": "ecc", "axis": {"values": [0,0.1,0.2,0.3,0.4], "labelOverlap": false, "format": ".1~f"}}, "text": {"value": "α–DDM 98"}}},
 {"data": {"values": [{}]}, "mark": {"type": "rule", "color": "#ff4500", "strokeWidth": 2}, "encoding": {"x": {"datum": 432, "type": "quantitative", "title": "time [ns]", "axis": {"values": [0,50,100,150,200,250,300,350,400,450,500], "labelOverlap": false, "labelFlush": false}}, "x2": {"datum": 480}, "y": {"datum": 0.345, "type": "quantitative", "title": "ecc", "axis": {"values": [0,0.1,0.2,0.3,0.4], "labelOverlap": false, "format": ".1~f"}}}}
]},
{"width": 289, "height": 79, "layer": [
 {"data": {"name": "sds"}, "mark": {"type": "rule", "color": "#b0b0b0", "strokeWidth": 1.8}, "encoding": {"x": {"field": "t", "type": "quantitative", "scale": {"domain": [0, 500], "nice": false}, "title": "time [ns]", "axis": {"values": [0,50,100,150,200,250,300,350,400,450,500], "labelOverlap": false, "labelFlush": false}}, "y": {"field": "s", "type": "quantitative", "scale": {"domain": [0, 0.4], "nice": false}, "title": "ecc", "axis": {"values": [0,0.1,0.2,0.3,0.4], "labelOverlap": false, "format": ".1~f"}}, "y2": {"field": "a"}}},
 {"data": {"name": "sds"}, "mark": {"type": "rule", "color": "#000000", "strokeWidth": 3}, "encoding": {"x": {"field": "t", "type": "quantitative", "title": "time [ns]", "axis": {"values": [0,50,100,150,200,250,300,350,400,450,500], "labelOverlap": false, "labelFlush": false}}, "y": {"field": "a", "type": "quantitative", "title": "ecc", "axis": {"values": [0,0.1,0.2,0.3,0.4], "labelOverlap": false, "format": ".1~f"}}, "y2": {"field": "b"}}},
 {"data": {"values": [{}]}, "mark": {"type": "text", "align": "right", "baseline": "middle", "fontSize": 10}, "encoding": {"x": {"datum": 423, "type": "quantitative", "title": "time [ns]", "axis": {"values": [0,50,100,150,200,250,300,350,400,450,500], "labelOverlap": false, "labelFlush": false}}, "y": {"datum": 0.345, "type": "quantitative", "title": "ecc", "axis": {"values": [0,0.1,0.2,0.3,0.4], "labelOverlap": false, "format": ".1~f"}}, "text": {"value": "SDS 62"}}},
 {"data": {"values": [{}]}, "mark": {"type": "rule", "color": "#000000", "strokeWidth": 2}, "encoding": {"x": {"datum": 432, "type": "quantitative", "title": "time [ns]", "axis": {"values": [0,50,100,150,200,250,300,350,400,450,500], "labelOverlap": false, "labelFlush": false}}, "x2": {"datum": 480}, "y": {"datum": 0.345, "type": "quantitative", "title": "ecc", "axis": {"values": [0,0.1,0.2,0.3,0.4], "labelOverlap": false, "format": ".1~f"}}}}
]}
]
}
